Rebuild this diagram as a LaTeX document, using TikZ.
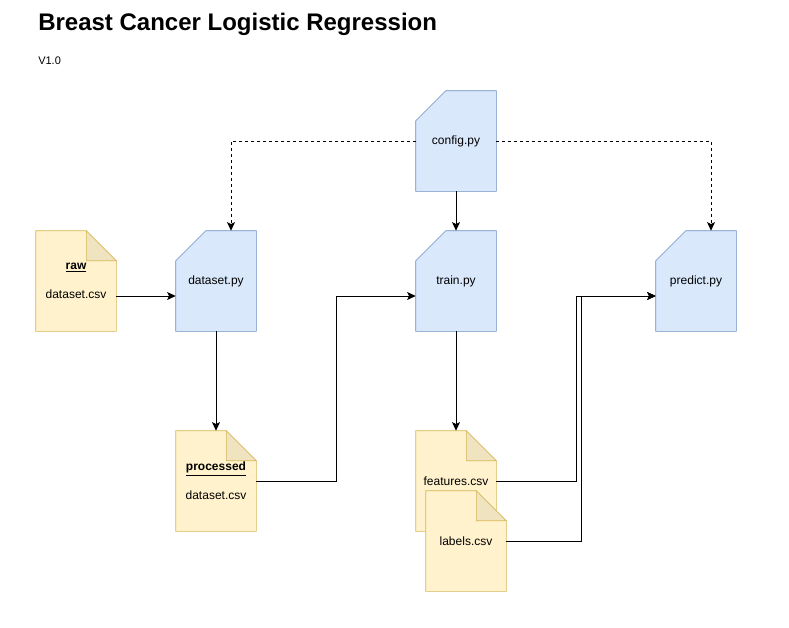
\documentclass[tikz,border=0pt]{standalone}
\usepackage{fontspec}
\setmainfont{Liberation Sans}
\usetikzlibrary{arrows.meta,backgrounds}
\definecolor{codefill}{HTML}{DAE8FC}
\definecolor{codeline}{HTML}{6C8EBF}
\definecolor{datafill}{HTML}{FFF2CC}
\definecolor{dataline}{HTML}{D6B656}
\definecolor{foldfill}{HTML}{F0E3C0}
\begin{document}
\begin{tikzpicture}[x=0.75pt, y=-0.75pt,
	every node/.style = {font=\fontsize{9}{10.8}\selectfont, align=center},
	file/.style = {minimum width=60pt, minimum height=75pt, inner sep=0pt},
	link/.style = {line width=0.75pt, -{Stealth[length=6.5pt,width=6pt,inset=1.5pt]}},
	uses/.style = {link, dash pattern=on 2.25pt off 2.25pt}]
	\useasboundingbox (0,0) rectangle (789,628);
	\node[anchor=base west, inner sep=0pt, font=\fontsize{18}{22}\selectfont\bfseries] (title) at (38,31) {Breast Cancer Logistic Regression};
	\node[anchor=base west, inner sep=0pt, font=\fontsize{8.25}{10}\selectfont] (version) at (38,64) {V1.0};
	% scripts
	\node[file] (config) at (456,141) {config.py};
	\node[file] (dataset) at (216,281) {dataset.py};
	\node[file] (train) at (456,281) {train.py};
	\node[file] (predict) at (696,281) {predict.py};
	% data files
	\node[file] (raw) at (76,281) {\textbf{\underline{raw}}\\[10.8pt]dataset.csv};
	\node[file] (processed) at (216,481) {\textbf{\underline{processed}}\\[10.8pt]dataset.csv};
	\node[file] (features) at (456,481) {features.csv};
	\node[file] (labels) at (466,541) {labels.csv};
	\begin{scope}[on background layer, line width=0.75pt]
		\foreach \n in {config,dataset,train,predict}
			\filldraw[draw=codeline, fill=codefill] (\n.south west) -- (\n.south east) -- (\n.north east) -- ([xshift=22.5pt]\n.north west) -- ([yshift=-22.5pt]\n.north west) -- cycle;
		\foreach \n in {raw,processed,features,labels} {
			\filldraw[draw=dataline, fill=datafill] (\n.south west) -- (\n.south east) -- ([yshift=-22.5pt]\n.north east) -- ([xshift=-22.5pt]\n.north east) -- (\n.north west) -- cycle;
			\filldraw[draw=dataline, fill=foldfill] ([xshift=-22.5pt]\n.north east) -- ([xshift=-22.5pt,yshift=-22.5pt]\n.north east) -- ([yshift=-22.5pt]\n.north east) -- cycle;
		}
	\end{scope}
	% connectors
	\draw[uses] (config.west) -| ([xshift=11.25pt]dataset.north);
	\draw[uses] (config.east) -| ([xshift=11.25pt]predict.north);
	\draw[link] (config) -- (train);
	\draw[link] ([yshift=-11.25pt]raw.east) -- ([yshift=-11.25pt]dataset.west);
	\draw[link] (dataset) -- (processed);
	\draw[link] (processed.east) -- ++(80,0) |- ([yshift=-11.25pt]train.west);
	\draw[link] (train) -- (features);
	\draw[link] (features.east) -- ++(80,0) |- ([yshift=-11.25pt]predict.west);
	\draw[link] (labels.east) -- ++(75,0) |- ([yshift=-11.25pt]predict.west);
\end{tikzpicture}
\end{document}
